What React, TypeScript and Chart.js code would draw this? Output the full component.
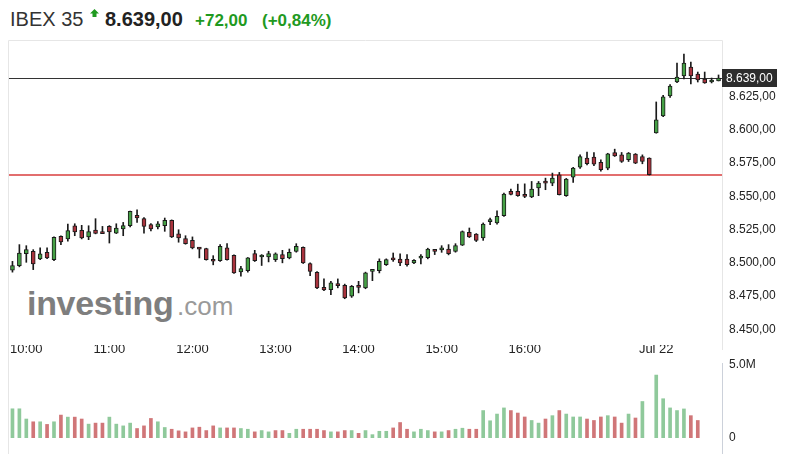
import React, { useEffect, useRef } from 'react';
import { Chart, registerables } from 'chart.js';

Chart.register(...registerables);

const FONT = 'Arial, "Liberation Sans", sans-serif';

const categories = [
  "09:50", "09:55",
  "10:00", "10:05", "10:10", "10:15", "10:20", "10:25", "10:30", "10:35", "10:40", "10:45", "10:50", "10:55",
  "11:00", "11:05", "11:10", "11:15", "11:20", "11:25", "11:30", "11:35", "11:40", "11:45", "11:50", "11:55",
  "12:00", "12:05", "12:10", "12:15", "12:20", "12:25", "12:30", "12:35", "12:40", "12:45", "12:50", "12:55",
  "13:00", "13:05", "13:10", "13:15", "13:20", "13:25", "13:30", "13:35", "13:40", "13:45", "13:50", "13:55",
  "14:00", "14:05", "14:10", "14:15", "14:20", "14:25", "14:30", "14:35", "14:40", "14:45", "14:50", "14:55",
  "15:00", "15:05", "15:10", "15:15", "15:20", "15:25", "15:30", "15:35", "15:40", "15:45", "15:50", "15:55",
  "16:00", "16:05", "16:10", "16:15", "16:20", "16:25", "16:30", "16:35", "16:40", "16:45", "16:50", "16:55",
  "17:00", "17:05", "17:10", "17:15", "17:20", "17:25", "17:30",
  "Jul 22", "09:05", "09:10", "09:15", "09:20", "09:25", "09:30", "09:35", "09:40", "09:45",
];

const xTickLabels = ["10:00", "11:00", "12:00", "13:00", "14:00", "15:00", "16:00", "Jul 22"];

const opens = [
  8494.4, 8497.9, 8506.8, 8508.6, 8502.9, 8507.9, 8502.4, 8519.9, 8517.9, 8527.9,
  8524.4, 8519.4, 8524.7, 8523.4, 8527.4, 8522.4, 8525.5, 8528.0, 8535.7, 8533.2,
  8528.7, 8527.0, 8527.9, 8531.9, 8521.9, 8518.2, 8516.9, 8510.6, 8510.7, 8501.7,
  8501.7, 8511.2, 8505.6, 8493.2, 8494.1, 8506.9, 8504.4, 8504.4, 8502.4, 8506.2,
  8503.7, 8508.6, 8511.7, 8499.4, 8492.9, 8481.6, 8479.9, 8483.1, 8483.1, 8474.9,
  8481.9, 8481.2, 8493.6, 8494.1, 8498.6, 8503.0, 8502.9, 8502.9, 8499.9, 8503.6,
  8503.8, 8508.9, 8509.8, 8510.4, 8508.6, 8513.2, 8523.0, 8521.7, 8518.7, 8531.0,
  8530.0, 8535.4, 8553.7, 8553.7, 8551.2, 8549.5, 8556.3, 8560.2, 8560.0, 8566.2,
  8550.5, 8564.5, 8571.9, 8578.8, 8579.5, 8575.5, 8571.2, 8583.0, 8581.2, 8577.5,
  8581.8, 8580.0, 8578.8, 8597.7, 8610.5, 8625.5, 8636.0, 8640.5, 8647.3, 8642.0,
  8638.3, 8636.0, 8636.8,
];

const highs = [
  8501.1, 8513.7, 8512.9, 8509.9, 8511.2, 8511.2, 8519.5, 8520.4, 8529.2, 8529.4,
  8528.2, 8527.9, 8533.2, 8527.4, 8528.0, 8529.4, 8530.4, 8539.0, 8539.9, 8534.0,
  8529.5, 8531.0, 8533.7, 8532.3, 8524.9, 8520.4, 8519.5, 8511.6, 8511.0, 8505.4,
  8513.7, 8514.4, 8506.0, 8497.4, 8504.0, 8509.4, 8506.2, 8508.7, 8507.5, 8509.4,
  8510.4, 8514.4, 8512.0, 8500.0, 8493.4, 8487.9, 8486.0, 8487.9, 8484.0, 8483.0,
  8486.1, 8493.0, 8494.0, 8503.0, 8503.0, 8507.4, 8506.7, 8506.2, 8502.4, 8506.2,
  8511.0, 8509.9, 8512.9, 8513.7, 8514.4, 8524.0, 8526.2, 8522.0, 8530.0, 8533.7,
  8539.2, 8552.4, 8555.5, 8559.2, 8559.4, 8561.2, 8561.2, 8563.7, 8567.5, 8568.0,
  8563.5, 8571.8, 8581.2, 8583.3, 8583.0, 8577.5, 8582.4, 8585.5, 8583.0, 8583.0,
  8582.2, 8581.2, 8579.0, 8621.0, 8626.0, 8634.0, 8650.3, 8657.0, 8651.0, 8643.5,
  8643.5, 8639.0, 8641.3,
];

const lows = [
  8493.0, 8497.0, 8500.4, 8494.9, 8502.4, 8503.2, 8501.7, 8513.7, 8516.2, 8520.4,
  8518.0, 8517.4, 8521.8, 8522.4, 8514.9, 8522.0, 8520.4, 8527.0, 8530.4, 8522.4,
  8524.0, 8525.5, 8523.7, 8519.0, 8515.5, 8514.0, 8510.5, 8503.7, 8502.0, 8498.5,
  8501.0, 8502.0, 8492.0, 8489.9, 8493.0, 8501.0, 8498.0, 8500.7, 8501.0, 8500.0,
  8503.0, 8508.0, 8499.5, 8490.4, 8480.5, 8479.0, 8476.1, 8481.2, 8473.0, 8474.0,
  8477.4, 8480.5, 8486.6, 8492.4, 8498.0, 8501.1, 8497.9, 8497.4, 8499.4, 8499.2,
  8503.0, 8506.2, 8507.9, 8506.0, 8508.0, 8513.0, 8519.0, 8516.0, 8516.9, 8528.7,
  8529.0, 8535.0, 8551.0, 8550.0, 8549.0, 8549.0, 8550.5, 8555.0, 8558.0, 8551.0,
  8550.0, 8560.4, 8571.0, 8573.7, 8573.0, 8569.0, 8570.0, 8580.0, 8575.5, 8576.2,
  8574.6, 8574.5, 8566.0, 8597.5, 8610.0, 8624.5, 8635.5, 8638.3, 8634.5, 8636.0,
  8635.0, 8635.3, 8636.8,
];

const closes = [
  8498.0, 8507.4, 8509.9, 8499.2, 8506.7, 8503.7, 8519.1, 8515.8, 8524.2, 8523.2,
  8518.7, 8523.6, 8522.2, 8522.0, 8523.2, 8526.2, 8528.0, 8538.7, 8533.8, 8527.4,
  8525.5, 8529.4, 8531.9, 8519.4, 8518.7, 8514.4, 8511.2, 8510.3, 8502.4, 8501.2,
  8512.4, 8502.4, 8492.4, 8495.6, 8503.7, 8501.7, 8504.7, 8506.9, 8506.7, 8503.1,
  8507.9, 8512.4, 8499.9, 8493.6, 8481.2, 8479.6, 8484.9, 8482.8, 8473.6, 8482.4,
  8481.6, 8492.4, 8493.9, 8501.1, 8502.4, 8502.2, 8499.9, 8498.6, 8501.9, 8503.9,
  8510.4, 8508.6, 8510.1, 8506.9, 8512.9, 8523.6, 8519.4, 8516.9, 8529.2, 8531.3,
  8535.0, 8551.7, 8551.5, 8550.5, 8550.0, 8555.5, 8560.0, 8559.9, 8563.8, 8551.2,
  8563.0, 8571.3, 8579.9, 8574.5, 8574.2, 8570.0, 8582.0, 8580.5, 8576.2, 8582.5,
  8575.0, 8576.2, 8566.3, 8607.5, 8624.8, 8633.0, 8639.8, 8650.3, 8640.5, 8637.5,
  8635.3, 8636.1, 8639.0,
];

// volume in millions
const volumes: (number | null)[] = [
  2.0, 2.0, 1.3, 1.11, 1.11, 0.93, 1.11, 1.57, 1.43, 1.43,
  1.3, 0.95, 1.02, 1.02, 1.43, 0.95, 0.83, 1.02, 0.65, 0.83,
  1.34, 1.11, 0.72, 0.6, 0.49, 0.42, 0.69, 0.74, 0.51, 0.83,
  0.69, 0.69, 0.69, 0.65, 0.6, 0.42, 0.51, 0.42, 0.51, 0.51,
  0.32, 0.6, 0.6, 0.6, 0.6, 0.51, 0.42, 0.42, 0.51, 0.51,
  0.32, 0.51, 0.23, 0.46, 0.46, 0.69, 1.06, 0.6, 0.42, 0.6,
  0.51, 0.42, 0.42, 0.51, 0.6, 0.67, 0.6, 0.6, 1.88, 1.18,
  1.64, 2.06, 1.88, 1.71, 1.44, 1.2, 1.02, 1.3, 1.53, 1.88,
  1.64, 1.44, 1.44, 1.3, 1.2, 1.44, 1.53, 1.44, 1.02, 1.64,
  1.37, 2.5, null, 4.31, 2.69, 2.06, 1.88, 1.99, 1.53, 1.2,
  null, null, null,
];

const lastPrice = 8639;
const changeAbs = 72;
const changePct = 0.84;
const refLine = 8566;
const priceMin = 8438.2;
const priceMax = 8667.6;
const priceStep = 25;
const volumeMax = 5;

const UP_BODY = '#45a045';
const DOWN_BODY = '#a9333d';
const UP_VOL = '#8fc99b';
const DOWN_VOL = '#d07678';
const GREEN_TEXT = '#1f9a1f';
const REF_RED = 'rgb(226, 110, 110)';

function fmtEs(v: number, digits = 2): string {
  const s = Math.abs(v).toFixed(digits);
  const [i, d] = s.split('.');
  const int = i.replace(/\B(?=(\d{3})+(?!\d))/g, '.');
  return (v < 0 ? '-' : '') + int + (d ? ',' + d : '');
}

const priceOverlay = {
  id: 'priceOverlay',
  beforeDatasetsDraw(chart: any) {
    const { ctx, chartArea: a, scales } = chart;
    ctx.save();
    ctx.lineWidth = 1;
    ctx.strokeStyle = '#e6e6e6';
    ctx.beginPath();
    ctx.moveTo(a.left - 0.5, chart.height);
    ctx.lineTo(a.left - 0.5, a.top + 0.5);
    ctx.lineTo(a.right + 0.5, a.top + 0.5);
    ctx.lineTo(a.right + 0.5, a.bottom + 5);
    ctx.stroke();
    const yr = Math.round(scales.y.getPixelForValue(refLine));
    ctx.fillStyle = REF_RED;
    ctx.fillRect(a.left, yr - 1, a.right - a.left, 2);
    const yl = Math.round(scales.y.getPixelForValue(lastPrice));
    ctx.fillStyle = '#333';
    ctx.fillRect(a.left, yl, a.right - a.left, 1);
    ctx.restore();
  },
  afterDraw(chart: any) {
    const { ctx, chartArea: a, scales } = chart;
    const yl = Math.round(scales.y.getPixelForValue(lastPrice));
    ctx.save();
    ctx.fillStyle = '#2d2d2d';
    ctx.fillRect(a.right, yl - 9, 55, 18);
    ctx.fillStyle = '#fff';
    ctx.font = '12px ' + FONT;
    ctx.textBaseline = 'middle';
    ctx.textAlign = 'left';
    ctx.fillText(fmtEs(lastPrice), a.right + 4, yl + 0.5);
    ctx.restore();
  },
};

const volumeOverlay = {
  id: 'volumeOverlay',
  beforeDatasetsDraw(chart: any) {
    const { ctx, chartArea: a } = chart;
    ctx.save();
    ctx.lineWidth = 1;
    ctx.strokeStyle = '#ccd1da';
    ctx.beginPath();
    ctx.moveTo(a.right + 0.5, 11);
    ctx.lineTo(a.right + 0.5, chart.height);
    ctx.stroke();
    ctx.strokeStyle = '#e6e6e6';
    ctx.beginPath();
    ctx.moveTo(a.left - 0.5, 10);
    ctx.lineTo(a.left - 0.5, chart.height);
    ctx.stroke();
    ctx.restore();
  },
};

export default function App() {
  const priceRef = useRef<HTMLCanvasElement | null>(null);
  const volRef = useRef<HTMLCanvasElement | null>(null);

  useEffect(() => {
    Chart.defaults.font.family = FONT;
    const wickData = lows.map((l, i) => [l, highs[i]]);
    const bodyData = opens.map((o, i) => [o, closes[i]]);
    const bodyColors = opens.map((o, i) => (closes[i] >= o ? UP_BODY : DOWN_BODY));
    const volColors = closes.map((c, i) =>
      (i === 0 ? c >= opens[0] : c >= closes[i - 1]) ? UP_VOL : DOWN_VOL
    );

    const priceChart = new Chart(priceRef.current as HTMLCanvasElement, {
      type: 'bar',
      data: {
        labels: categories,
        datasets: [
          {
            label: 'wick',
            data: wickData as any,
            backgroundColor: '#1a1a1a',
            barThickness: 1,
            grouped: false,
            order: 2,
          } as any,
          {
            label: 'body',
            data: bodyData as any,
            backgroundColor: bodyColors,
            borderColor: '#1a1a1a',
            borderWidth: 1,
            borderSkipped: false,
            barThickness: 4,
            minBarLength: 2,
            grouped: false,
            order: 1,
          } as any,
        ],
      },
      options: {
        responsive: false,
        animation: false,
        events: [],
        layout: { padding: { top: 40, left: 9, right: 0, bottom: 0 } },
        plugins: { legend: { display: false }, tooltip: { enabled: false } },
        scales: {
          x: {
            type: 'category',
            offset: true,
            grid: { display: false, drawTicks: false },
            border: { display: false },
            ticks: {
              autoSkip: false,
              maxRotation: 0,
              minRotation: 0,
              padding: -3,
              color: '#222',
              font: { size: 13 },
              callback: (_v: any, i: number) => (xTickLabels.includes(categories[i]) ? categories[i] : ''),
            },
            afterFit: (s: any) => {
              s.height = 17;
              s.paddingLeft = 0;
              s.paddingRight = 0;
            },
          },
          y: {
            position: 'right',
            min: priceMin,
            max: priceMax,
            grid: { display: false, drawTicks: false },
            border: { display: false },
            ticks: {
              stepSize: priceStep,
              includeBounds: false,
              padding: 7,
              color: '#222',
              font: { size: 12 },
              callback: (v: any) => (Math.abs(Number(v) - lastPrice) < 14 ? '' : fmtEs(Number(v))),
            },
            afterFit: (s: any) => {
              s.width = 76;
              s.paddingTop = 0;
              s.paddingBottom = 0;
            },
          },
        },
      } as any,
      plugins: [priceOverlay],
    });

    const volChart = new Chart(volRef.current as HTMLCanvasElement, {
      type: 'bar',
      data: {
        labels: categories,
        datasets: [
          {
            label: 'volume',
            data: volumes as any,
            backgroundColor: volColors,
            barThickness: 3,
          },
        ],
      },
      options: {
        responsive: false,
        animation: false,
        events: [],
        layout: { padding: { top: 13, left: 9, right: 0, bottom: 16 } },
        plugins: { legend: { display: false }, tooltip: { enabled: false } },
        scales: {
          x: {
            type: 'category',
            offset: true,
            display: false,
          },
          y: {
            position: 'right',
            min: 0,
            max: volumeMax,
            grid: { display: false, drawTicks: false },
            border: { display: false },
            ticks: {
              stepSize: volumeMax,
              padding: 7,
              color: '#222',
              font: { size: 12 },
              callback: (v: any) => (Number(v) === 0 ? '0' : Number(v).toFixed(1) + 'M'),
            },
            afterFit: (s: any) => {
              s.width = 76;
              s.paddingTop = 0;
              s.paddingBottom = 0;
            },
          },
        },
      } as any,
      plugins: [volumeOverlay],
    });

    return () => {
      priceChart.destroy();
      volChart.destroy();
    };
  }, []);

  const sign = changeAbs >= 0 ? '+' : '';
  return (
    <div
      style={{
        position: 'fixed',
        left: 0,
        top: 0,
        width: 798,
        height: 454,
        background: '#fff',
        overflow: 'hidden',
        fontFamily: FONT,
      }}
    >
      <span style={{ position: 'absolute', left: 10, top: 9, fontSize: 20, lineHeight: '20px', color: '#333', whiteSpace: 'nowrap' }}>
        IBEX 35
      </span>
      <svg style={{ position: 'absolute', left: 90, top: 9 }} width={9} height={9} viewBox="0 0 9 9">
        <polygon points="4.5,0 9,4.5 6.5,4.5 6.5,8 2.5,8 2.5,4.5 0,4.5" fill={GREEN_TEXT} />
      </svg>
      <span style={{ position: 'absolute', left: 105, top: 9, fontSize: 20, lineHeight: '20px', fontWeight: 'bold', color: '#222', whiteSpace: 'nowrap' }}>
        {fmtEs(lastPrice)}
      </span>
      <span style={{ position: 'absolute', left: 195, top: 11.6, fontSize: 17, lineHeight: '17px', fontWeight: 'bold', color: GREEN_TEXT, whiteSpace: 'nowrap' }}>
        {sign + fmtEs(changeAbs)}
      </span>
      <span style={{ position: 'absolute', left: 262, top: 11.6, fontSize: 17, lineHeight: '17px', fontWeight: 'bold', color: GREEN_TEXT, whiteSpace: 'nowrap' }}>
        {'(' + sign + fmtEs(changePct) + '%)'}
      </span>
      <span style={{ position: 'absolute', left: 27, top: 286, fontSize: 34, lineHeight: '34px', fontWeight: 'bold', color: '#7e7e7e', whiteSpace: 'nowrap', letterSpacing: -0.3 }}>
        investing
      </span>
      <span style={{ position: 'absolute', left: 177, top: 293, fontSize: 26, lineHeight: '26px', color: '#9a9a9a', whiteSpace: 'nowrap' }}>
        .com
      </span>
      <canvas ref={priceRef} width={798} height={362} style={{ position: 'absolute', left: 0, top: 0, width: 798, height: 362 }} />
      <canvas ref={volRef} width={798} height={102} style={{ position: 'absolute', left: 0, top: 352, width: 798, height: 102 }} />
    </div>
  );
}
